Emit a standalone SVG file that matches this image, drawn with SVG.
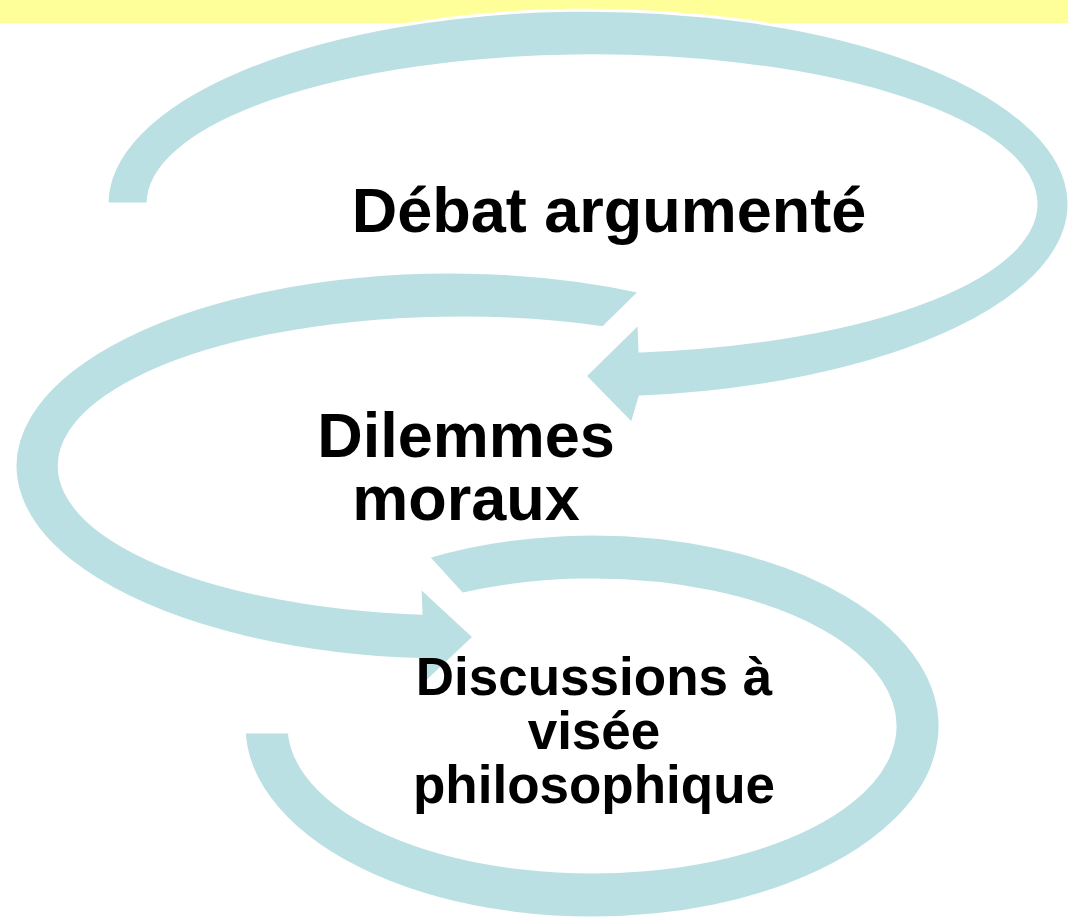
<svg xmlns="http://www.w3.org/2000/svg" width="1068" height="922" viewBox="0 0 1068 922">
  <style>
    .arrow { fill: #bbe0e3; stroke: #ffffff; stroke-width: 3; stroke-linejoin: miter; }
    .label { font-family: "Liberation Sans", Arial, sans-serif; font-weight: bold; fill: #000000; text-anchor: middle; }
  </style>
  <rect x="0" y="0" width="1068" height="922" fill="#ffffff"/>
  <rect id="banner" x="0" y="0" width="1068" height="23" fill="#ffff99"/>
  <g id="node-debat">
    <path class="arrow" d="M 107 204 A 481 194 0 1 1 640 397 L 632 424 L 585 376 L 639 323 L 640 351 A 444 148 0 1 0 148 204 Z"/>
    <text class="label" x="609" y="232" font-size="63">Débat argumenté</text>
  </g>
  <g id="node-dilemmes">
    <path class="arrow" d="M 640 291.5 A 435 194 0 1 0 421 659.6 L 420 688 L 474 637 L 420 587 L 421 613.3 A 401 148 0 1 1 603 327.7 Z"/>
    <text class="label" font-size="63"><tspan x="466" y="457">Dilemmes</tspan><tspan x="466" y="520">moraux</tspan></text>
  </g>
  <g id="node-discussions">
    <path class="arrow" d="M 428 556.7 A 348 192 0 1 1 244.2 732 L 289.3 732 A 303 146 0 1 0 462 594.1 Z"/>
    <text class="label" font-size="53"><tspan x="594" y="695">Discussions à</tspan><tspan x="594" y="749">visée</tspan><tspan x="594" y="803">philosophique</tspan></text>
  </g>
  <g id="connectors"/>
</svg>
